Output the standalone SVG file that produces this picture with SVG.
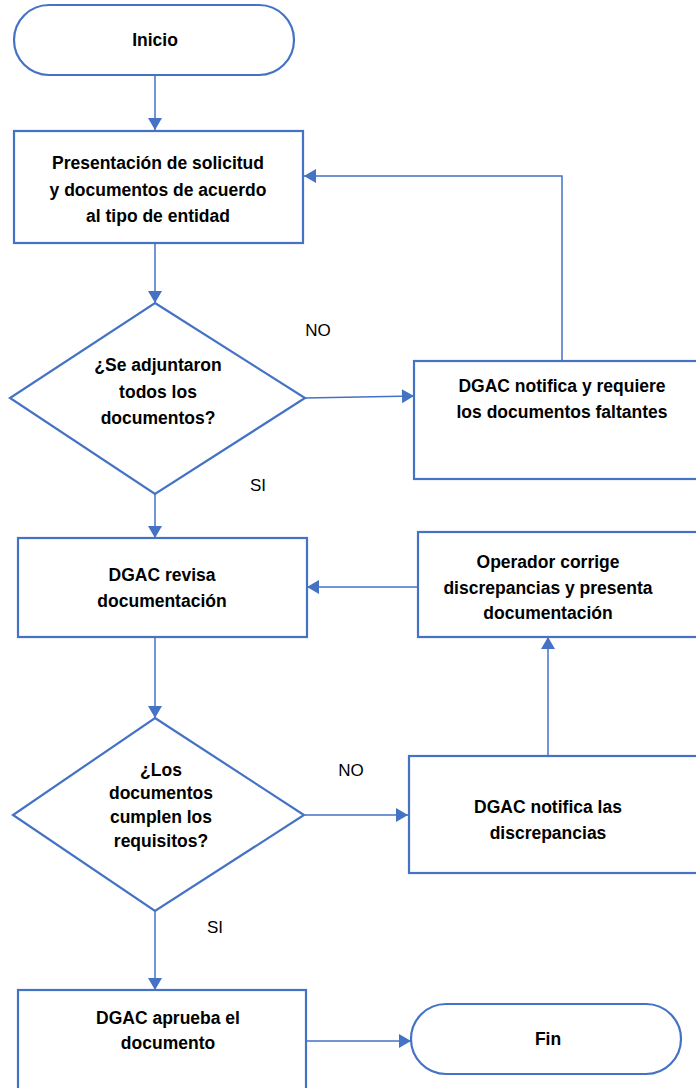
<svg xmlns="http://www.w3.org/2000/svg" width="696" height="1088" viewBox="0 0 696 1088">
<defs>
<style>
.shape{fill:#fff;stroke:#4472C4;stroke-width:2.2}
.conn{fill:none;stroke:#4472C4;stroke-width:1.5}
.t{font-family:"Liberation Sans",Arial,sans-serif;font-weight:bold;font-size:17.5px;fill:#000;text-anchor:middle}
.lbl{font-family:"Liberation Sans",Arial,sans-serif;font-size:17px;fill:#000;text-anchor:middle}
</style>
<marker id="ahl" viewBox="0 0 12 14" refX="12" refY="7" markerWidth="14" markerHeight="14" markerUnits="userSpaceOnUse" orient="auto">
<path d="M0,0 L12,7 L0,14 z" fill="#4472C4"/>
</marker>
</defs>
<g id="connectors">
<path class="conn" d="M155,75 V130" marker-end="url(#ahl)"/>
<path class="conn" d="M155,243 V303" marker-end="url(#ahl)"/>
<path class="conn" d="M305,398 L414,396" marker-end="url(#ahl)"/>
<path class="conn" d="M562,360 V176 H304" marker-end="url(#ahl)"/>
<path class="conn" d="M155,494 V538" marker-end="url(#ahl)"/>
<path class="conn" d="M417,587 H307" marker-end="url(#ahl)"/>
<path class="conn" d="M155,637 V718" marker-end="url(#ahl)"/>
<path class="conn" d="M305,815 H408" marker-end="url(#ahl)"/>
<path class="conn" d="M548,755 V637" marker-end="url(#ahl)"/>
<path class="conn" d="M155,910 V990" marker-end="url(#ahl)"/>
<path class="conn" d="M306,1041 H411" marker-end="url(#ahl)"/>
</g>
<g id="inicio">
<rect class="shape" x="14" y="5" width="280" height="70" rx="35" ry="35"/>
<text class="t" x="155" y="46">Inicio</text>
</g>
<g id="presentacion">
<rect class="shape" x="14" y="131" width="289" height="112"/>
<text class="t" x="158" y="169">Presentación de solicitud</text>
<text class="t" x="158" y="196">y documentos de acuerdo</text>
<text class="t" x="158" y="222">al tipo de entidad</text>
</g>
<g id="decision1">
<polygon class="shape" points="155,303 305,398 155,494 10,398"/>
<text class="t" x="158" y="371">¿Se adjuntaron</text>
<text class="t" x="158" y="398">todos los</text>
<text class="t" x="158" y="424">documentos?</text>
</g>
<g id="notifica-faltantes">
<rect class="shape" x="414" y="361" width="290" height="118"/>
<text class="t" x="562" y="392">DGAC notifica y requiere</text>
<text class="t" x="562" y="418">los documentos faltantes</text>
</g>
<g id="revisa">
<rect class="shape" x="18" y="538" width="289" height="99"/>
<text class="t" x="162" y="581">DGAC revisa</text>
<text class="t" x="162" y="607">documentación</text>
</g>
<g id="corrige">
<rect class="shape" x="418" y="532" width="290" height="105"/>
<text class="t" x="548" y="568">Operador corrige</text>
<text class="t" x="548" y="594">discrepancias y presenta</text>
<text class="t" x="548" y="619">documentación</text>
</g>
<g id="decision2">
<polygon class="shape" points="155,718 304,815 155,911 13,815"/>
<text class="t" x="161" y="776">¿Los</text>
<text class="t" x="161" y="799">documentos</text>
<text class="t" x="161" y="823">cumplen los</text>
<text class="t" x="161" y="847">requisitos?</text>
</g>
<g id="notifica-discrepancias">
<rect class="shape" x="409" y="756" width="295" height="117"/>
<text class="t" x="548" y="813">DGAC notifica las</text>
<text class="t" x="548" y="839">discrepancias</text>
</g>
<g id="aprueba">
<rect class="shape" x="18" y="990" width="288" height="110"/>
<text class="t" x="168" y="1024">DGAC aprueba el</text>
<text class="t" x="168" y="1049">documento</text>
</g>
<g id="fin">
<rect class="shape" x="411" y="1004" width="270" height="70" rx="35" ry="35"/>
<text class="t" x="548" y="1045">Fin</text>
</g>
<g id="labels">
<text class="lbl" x="318" y="336">NO</text>
<text class="lbl" x="258" y="491">SI</text>
<text class="lbl" x="351" y="776">NO</text>
<text class="lbl" x="215" y="933">SI</text>
</g>
</svg>
